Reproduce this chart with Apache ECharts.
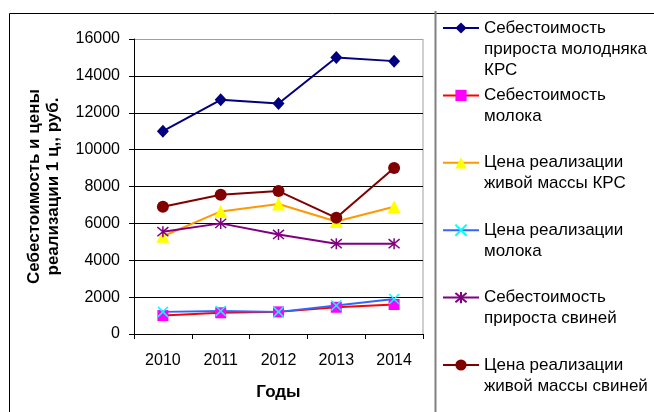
<!DOCTYPE html>
<html>
<head>
<meta charset="utf-8">
<script src="https://cdn.jsdelivr.net/npm/echarts@6/dist/echarts.min.js"></script>
<style>
html,body{margin:0;padding:0;background:#fff;}
#chart{width:654px;height:412px;}
</style>
</head>
<body>
<div id="chart"></div>
<script>
var categories = ['2010', '2011', '2012', '2013', '2014'];
var seriesNames = [
  'Себестоимость\nприроста молодняка\nКРС',
  'Себестоимость\nмолока',
  'Цена реализации\nживой массы КРС',
  'Цена реализации\nмолока',
  'Себестоимость\nприроста свиней',
  'Цена реализации\nживой массы свиней'
];
var costYoungCattle = [11000, 12700, 12500, 15000, 14800];
var costMilk = [1000, 1150, 1200, 1450, 1600];
var priceCattle = [5300, 6650, 7050, 6100, 6900];
var priceMilk = [1200, 1250, 1200, 1550, 1900];
var costPigs = [5550, 6000, 5400, 4900, 4900];
var pricePigs = [6900, 7550, 7750, 6300, 9000];
var yTicks = [0, 2000, 4000, 6000, 8000, 10000, 12000, 14000, 16000];

var xPath = 'path://M0,0L10,10M10,0L0,10';
var starPath = 'path://M0,0L10,10M10,0L0,10M5,-1L5,11';

var styles = [
  {line: '#000080', fill: '#000080', symbol: 'diamond', size: [12, 13], stroke: false},
  {line: '#FF0000', fill: '#FF00FF', symbol: 'rect', size: 11, stroke: false},
  {line: '#FF9900', fill: '#FFFF00', symbol: 'triangle', size: 13, stroke: false},
  {line: '#3366FF', fill: '#00FFFF', symbol: xPath, size: 10, stroke: true},
  {line: '#800080', fill: '#800080', symbol: starPath, size: 11, stroke: true},
  {line: '#800000', fill: '#800000', symbol: 'circle', size: 12, stroke: false}
];
var datas = [costYoungCattle, costMilk, priceCattle, priceMilk, costPigs, pricePigs];

var series = datas.map(function (d, i) {
  var s = styles[i];
  return {
    name: seriesNames[i],
    type: 'line',
    data: d,
    symbol: s.symbol,
    symbolSize: s.size,
    showAllSymbol: true,
    animation: false,
    lineStyle: {color: s.line, width: 2},
    itemStyle: s.stroke
      ? {color: 'rgba(0,0,0,0)', borderColor: s.fill, borderWidth: 1.5}
      : {color: s.fill, borderColor: s.fill, borderWidth: 0}
  };
});

var lh = 21;
var maxLines = 3;
function legendFormatter(name) {
  var n = name.split('\n').length;
  var pre = '', post = '';
  for (var i = 0; i < maxLines - 1; i++) pre += ' \n';
  for (var j = 0; j < maxLines - n; j++) post += '\n ';
  return pre + name + post;
}

var splitColors = yTicks.map(function (v, i) { return i === yTicks.length - 1 ? '#A0A0A0' : '#000000'; });

var chart = echarts.init(document.getElementById('chart'), null, {renderer: 'canvas'});
chart.setOption({
  animation: false,
  backgroundColor: '#ffffff',
  textStyle: {fontFamily: 'Liberation Sans, Arial, sans-serif'},
  grid: {left: 134, right: 231, top: 39, bottom: 78, show: false},
  graphic: [
    {type: 'rect', left: 7, top: 11, shape: {width: 700, height: 500}, style: {fill: 'none', stroke: '#000', lineWidth: 1}, z: -10},
    {type: 'line', shape: {x1: 435.5, y1: 11, x2: 435.5, y2: 412}, style: {stroke: '#808080', lineWidth: 2}, z: -10},
    {type: 'line', shape: {x1: 423, y1: 39, x2: 423, y2: 334}, style: {stroke: '#A0A0A0', lineWidth: 1}, z: -5}
  ],
  legend: {
    type: 'plain',
    orient: 'vertical',
    left: 442,
    top: 28 - (2 * maxLines - 1) * lh / 2,
    height: 900,
    padding: 0,
    itemWidth: 36,
    itemHeight: 14,
    itemGap: 67.4 - (2 * maxLines - 1) * lh,
    selectedMode: false,
    data: seriesNames,
    formatter: legendFormatter,
    textStyle: {fontSize: 17, color: '#000', lineHeight: lh, backgroundColor: 'rgba(255,255,255,0)', fontFamily: 'Liberation Sans, Arial, sans-serif'}
  },
  xAxis: {
    type: 'category',
    data: categories,
    boundaryGap: true,
    name: 'Годы',
    nameLocation: 'middle',
    nameGap: 50,
    nameTextStyle: {fontSize: 17, fontWeight: 'bold', color: '#000', verticalAlign: 'top'},
    axisLine: {lineStyle: {color: '#000', width: 1}},
    axisTick: {show: true, length: 5, alignWithLabel: false, lineStyle: {color: '#000'}},
    axisLabel: {fontSize: 16, color: '#000', margin: 19}
  },
  yAxis: {
    type: 'value',
    min: 0,
    max: 16000,
    interval: 2000,
    name: 'Себестоимость и цены\nреализации 1 ц,, руб.',
    nameLocation: 'middle',
    nameRotate: 90,
    nameGap: 71,
    nameTextStyle: {fontSize: 17, fontWeight: 'bold', color: '#000', lineHeight: 19},
    axisLine: {show: true, lineStyle: {color: '#000', width: 1}},
    axisTick: {show: true, length: 5, lineStyle: {color: '#000'}},
    axisLabel: {fontSize: 16, color: '#000', margin: 14, formatter: function (v) { return String(v); }},
    splitLine: {show: true, lineStyle: {color: splitColors, width: 1}}
  },
  series: series
});
</script>
</body>
</html>
